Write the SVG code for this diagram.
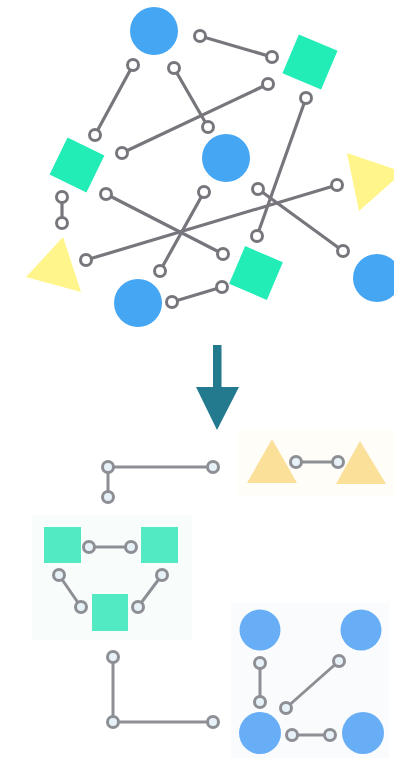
<svg xmlns="http://www.w3.org/2000/svg" width="394" height="758" viewBox="0 0 394 758">
  <defs>
    <style>
      .edge { stroke: #78767c; stroke-width: 3.2; stroke-linecap: round; fill: none; }
      .port { fill: #ffffff; stroke: #78767c; stroke-width: 3; }
      .edge2 { stroke: #8d8f95; stroke-width: 3; stroke-linecap: round; fill: none; }
      .port2 { fill: #e6f2f8; stroke: #8d8f95; stroke-width: 3; }
      .blue { fill: #45a6f4; }
      .green { fill: #22edb7; }
      .yellow { fill: #fff58a; }
      .blue2 { fill: #67aef6; }
      .green2 { fill: #52eac2; }
      .yellow2 { fill: #fbe09a; }
      .arrow { fill: #237a8f; }
    </style>
  </defs>
  <rect width="394" height="758" fill="#ffffff"/>

  <!-- faint panels behind the sorted groups -->
  <g id="panels">
    <rect x="238" y="430" width="156" height="66" fill="#fefdf8"/>
    <rect x="32" y="515" width="160" height="125" fill="#f8fdfc"/>
    <rect x="231" y="603" width="158" height="155" fill="#f9fbfd"/>
  </g>

  <g id="connectors">
    <!-- scattered graph -->
    <g id="scatter-edges">
      <line class="edge" x1="200" y1="36" x2="272" y2="57"/>
      <line class="edge" x1="133" y1="65" x2="95" y2="135"/>
      <line class="edge" x1="174" y1="68" x2="208" y2="127"/>
      <line class="edge" x1="268" y1="84" x2="122" y2="153"/>
      <line class="edge" x1="306" y1="98" x2="257" y2="236"/>
      <line class="edge" x1="62" y1="197" x2="62" y2="223"/>
      <line class="edge" x1="106" y1="194" x2="223" y2="254"/>
      <line class="edge" x1="204" y1="192" x2="160" y2="271"/>
      <line class="edge" x1="86" y1="260" x2="337" y2="185"/>
      <line class="edge" x1="258" y1="189" x2="343" y2="251"/>
      <line class="edge" x1="172" y1="302" x2="222" y2="287"/>
    </g>
    <g id="scatter-ports">
      <circle class="port" cx="200" cy="36" r="5.5"/>
      <circle class="port" cx="272" cy="57" r="5.5"/>
      <circle class="port" cx="133" cy="65" r="5.5"/>
      <circle class="port" cx="95" cy="135" r="5.5"/>
      <circle class="port" cx="174" cy="68" r="5.5"/>
      <circle class="port" cx="208" cy="127" r="5.5"/>
      <circle class="port" cx="268" cy="84" r="5.5"/>
      <circle class="port" cx="122" cy="153" r="5.5"/>
      <circle class="port" cx="306" cy="98" r="5.5"/>
      <circle class="port" cx="257" cy="236" r="5.5"/>
      <circle class="port" cx="62" cy="197" r="5.5"/>
      <circle class="port" cx="62" cy="223" r="5.5"/>
      <circle class="port" cx="106" cy="194" r="5.5"/>
      <circle class="port" cx="223" cy="254" r="5.5"/>
      <circle class="port" cx="204" cy="192" r="5.5"/>
      <circle class="port" cx="160" cy="271" r="5.5"/>
      <circle class="port" cx="86" cy="260" r="5.5"/>
      <circle class="port" cx="337" cy="185" r="5.5"/>
      <circle class="port" cx="258" cy="189" r="5.5"/>
      <circle class="port" cx="343" cy="251" r="5.5"/>
      <circle class="port" cx="172" cy="302" r="5.5"/>
      <circle class="port" cx="222" cy="287" r="5.5"/>
    </g>

    <!-- sorted groups -->
    <g id="sorted-edges">
      <line class="edge2" x1="108" y1="467" x2="213" y2="467"/>
      <line class="edge2" x1="108" y1="467" x2="108" y2="497"/>
      <line class="edge2" x1="296" y1="462" x2="338" y2="462"/>
      <line class="edge2" x1="89" y1="547" x2="131" y2="547"/>
      <line class="edge2" x1="59" y1="575" x2="81" y2="607"/>
      <line class="edge2" x1="162" y1="575" x2="138" y2="607"/>
      <polyline class="edge2" points="113,657 113,722 213,722"/>
      <line class="edge2" x1="260" y1="663" x2="260" y2="702"/>
      <line class="edge2" x1="339" y1="661" x2="286" y2="708"/>
      <line class="edge2" x1="292" y1="735" x2="330" y2="735"/>
    </g>
    <g id="sorted-ports">
      <circle class="port2" cx="108" cy="467" r="5.5"/>
      <circle class="port2" cx="108" cy="497" r="5.5"/>
      <circle class="port2" cx="213" cy="467" r="5.5"/>
      <circle class="port2" cx="296" cy="462" r="5.5"/>
      <circle class="port2" cx="338" cy="462" r="5.5"/>
      <circle class="port2" cx="89" cy="547" r="5.5"/>
      <circle class="port2" cx="131" cy="547" r="5.5"/>
      <circle class="port2" cx="59" cy="575" r="5.5"/>
      <circle class="port2" cx="81" cy="607" r="5.5"/>
      <circle class="port2" cx="162" cy="575" r="5.5"/>
      <circle class="port2" cx="138" cy="607" r="5.5"/>
      <circle class="port2" cx="113" cy="657" r="5.5"/>
      <circle class="port2" cx="113" cy="722" r="5.5"/>
      <circle class="port2" cx="213" cy="722" r="5.5"/>
      <circle class="port2" cx="260" cy="663" r="5.5"/>
      <circle class="port2" cx="260" cy="702" r="5.5"/>
      <circle class="port2" cx="339" cy="661" r="5.5"/>
      <circle class="port2" cx="286" cy="708" r="5.5"/>
      <circle class="port2" cx="292" cy="735" r="5.5"/>
      <circle class="port2" cx="330" cy="735" r="5.5"/>
    </g>
  </g>

  <!-- scattered graph: shapes -->
  <g id="circle-a"><circle class="blue" cx="154" cy="31" r="24"/></g>
  <g id="circle-b"><circle class="blue" cx="226" cy="158" r="24"/></g>
  <g id="circle-c"><circle class="blue" cx="138" cy="303" r="24"/></g>
  <g id="circle-d"><circle class="blue" cx="377" cy="278" r="24"/></g>
  <g id="square-a"><rect class="green" x="-21" y="-21" width="42" height="42" transform="translate(310 62) rotate(23)"/></g>
  <g id="square-b"><rect class="green" x="-20.5" y="-20.5" width="41" height="41" transform="translate(77 165) rotate(26)"/></g>
  <g id="square-c"><rect class="green" x="-20.5" y="-20.5" width="41" height="41" transform="translate(256 273) rotate(23)"/></g>
  <g id="triangle-a"><polygon class="yellow" points="63,237 26,277 81,292"/></g>
  <g id="triangle-b"><polygon class="yellow" points="347,153 359,211 403,172"/></g>

  <!-- transition arrow -->
  <g id="arrow">
    <rect class="arrow" x="213" y="345" width="8.5" height="44"/>
    <polygon class="arrow" points="196,387 239,387 217,430"/>
  </g>

  <!-- sorted groups: shapes -->
  <g id="triangle-left"><polygon class="yellow2" points="272,439 247,483 297,483"/></g>
  <g id="triangle-right"><polygon class="yellow2" points="360,441 336,484 386,484"/></g>
  <g id="square-left"><rect class="green2" x="44" y="527" width="37" height="36"/></g>
  <g id="square-right"><rect class="green2" x="141" y="527" width="37" height="36"/></g>
  <g id="square-bottom"><rect class="green2" x="92" y="594" width="36" height="37"/></g>
  <g id="circle-tl"><circle class="blue2" cx="260" cy="630" r="20.5"/></g>
  <g id="circle-tr"><circle class="blue2" cx="361" cy="630" r="20.5"/></g>
  <g id="circle-bl"><circle class="blue2" cx="260" cy="733" r="21"/></g>
  <g id="circle-br"><circle class="blue2" cx="363" cy="733" r="21"/></g>
</svg>
